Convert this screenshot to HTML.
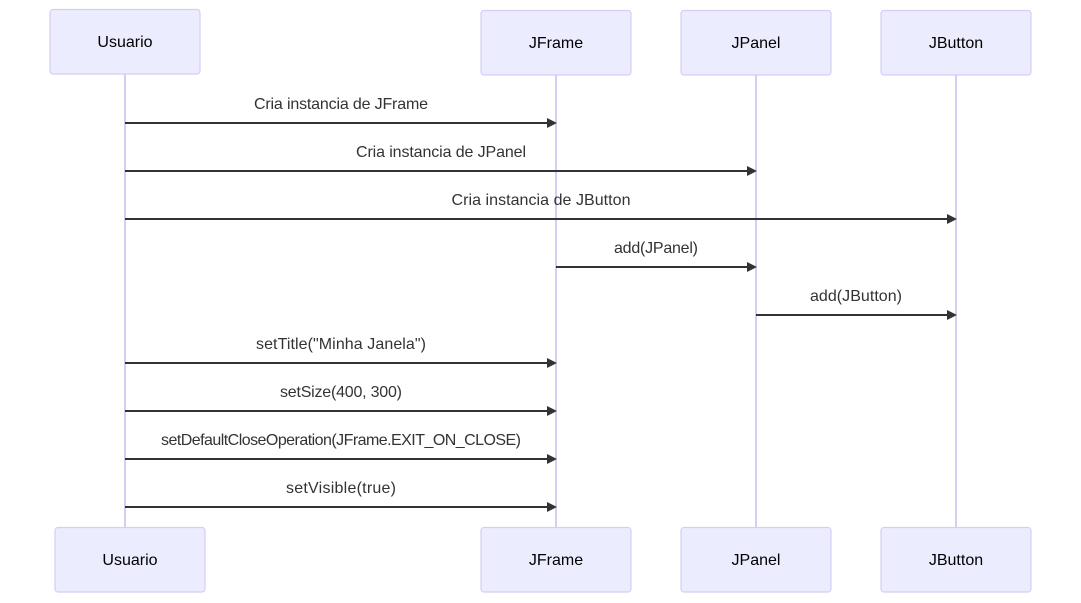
<!DOCTYPE html>
<html><head><meta charset="utf-8"><style>
html,body{margin:0;padding:0;background:#fff;}
svg{display:block;}
text{font-family:"Liberation Sans",sans-serif;font-size:16px;fill:#333;}
.b{fill:#ECECFF;stroke:#d5cdf3;stroke-width:1.2;}
.l{stroke:#d5cdf3;stroke-width:2;}
.m{stroke:#333;stroke-width:2;}
.p{fill:#333;}
</style></head><body>
<svg width="1081" height="603" viewBox="0 0 1081 603">
<line class="l" x1="125" y1="74" x2="125" y2="527"/>
<line class="l" x1="556" y1="75" x2="556" y2="527"/>
<line class="l" x1="756" y1="75" x2="756" y2="527"/>
<line class="l" x1="956" y1="75" x2="956" y2="527"/>

<rect class="b" x="50" y="9.5" width="150" height="64.5" rx="3"/>
<rect class="b" x="481" y="10.5" width="150" height="64.5" rx="3"/>
<rect class="b" x="681" y="10.5" width="150" height="64.5" rx="3"/>
<rect class="b" x="881" y="10.5" width="150" height="64.5" rx="3"/>
<rect class="b" x="55" y="527.5" width="150" height="64.5" rx="3"/>
<rect class="b" x="481" y="527.5" width="150" height="64.5" rx="3"/>
<rect class="b" x="681" y="527.5" width="150" height="64.5" rx="3"/>
<rect class="b" x="881" y="527.5" width="150" height="64.5" rx="3"/>

<g text-anchor="middle">
<text x="125" y="47" style="fill:#000">Usuario</text>
<text x="556" y="48" style="fill:#000">JFrame</text>
<text x="756" y="48" style="fill:#000">JPanel</text>
<text x="956" y="48" style="fill:#000">JButton</text>
<text x="130" y="565" style="fill:#000">Usuario</text>
<text x="556" y="565" style="fill:#000">JFrame</text>
<text x="756" y="565" style="fill:#000">JPanel</text>
<text x="956" y="565" style="fill:#000">JButton</text>
</g>

<g>
<line class="m" x1="125" y1="123" x2="548" y2="123"/><polygon class="p" points="547,118 557,123 547,128"/>
<line class="m" x1="125" y1="171" x2="748" y2="171"/><polygon class="p" points="747,166 757,171 747,176"/>
<line class="m" x1="125" y1="219" x2="948" y2="219"/><polygon class="p" points="947,214 957,219 947,224"/>
<line class="m" x1="556" y1="267" x2="748" y2="267"/><polygon class="p" points="747,262 757,267 747,272"/>
<line class="m" x1="756" y1="315" x2="948" y2="315"/><polygon class="p" points="947,310 957,315 947,320"/>
<line class="m" x1="125" y1="363" x2="548" y2="363"/><polygon class="p" points="547,358 557,363 547,368"/>
<line class="m" x1="125" y1="411" x2="548" y2="411"/><polygon class="p" points="547,406 557,411 547,416"/>
<line class="m" x1="125" y1="459" x2="548" y2="459"/><polygon class="p" points="547,454 557,459 547,464"/>
<line class="m" x1="125" y1="507" x2="548" y2="507"/><polygon class="p" points="547,502 557,507 547,512"/>
</g>

<g text-anchor="middle">
<text x="341" y="109" textLength="174">Cria instancia de JFrame</text>
<text x="441" y="157" textLength="170">Cria instancia de JPanel</text>
<text x="541" y="205" textLength="179">Cria instancia de JButton</text>
<text x="656" y="253" textLength="84">add(JPanel)</text>
<text x="856" y="301" textLength="92">add(JButton)</text>
<text x="341" y="349" textLength="170">setTitle("Minha Janela")</text>
<text x="341" y="397" textLength="122">setSize(400, 300)</text>
<text x="341" y="445" textLength="360">setDefaultCloseOperation(JFrame.EXIT_ON_CLOSE)</text>
<text x="341" y="493" textLength="110">setVisible(true)</text>
</g>
</svg>
</body></html>
